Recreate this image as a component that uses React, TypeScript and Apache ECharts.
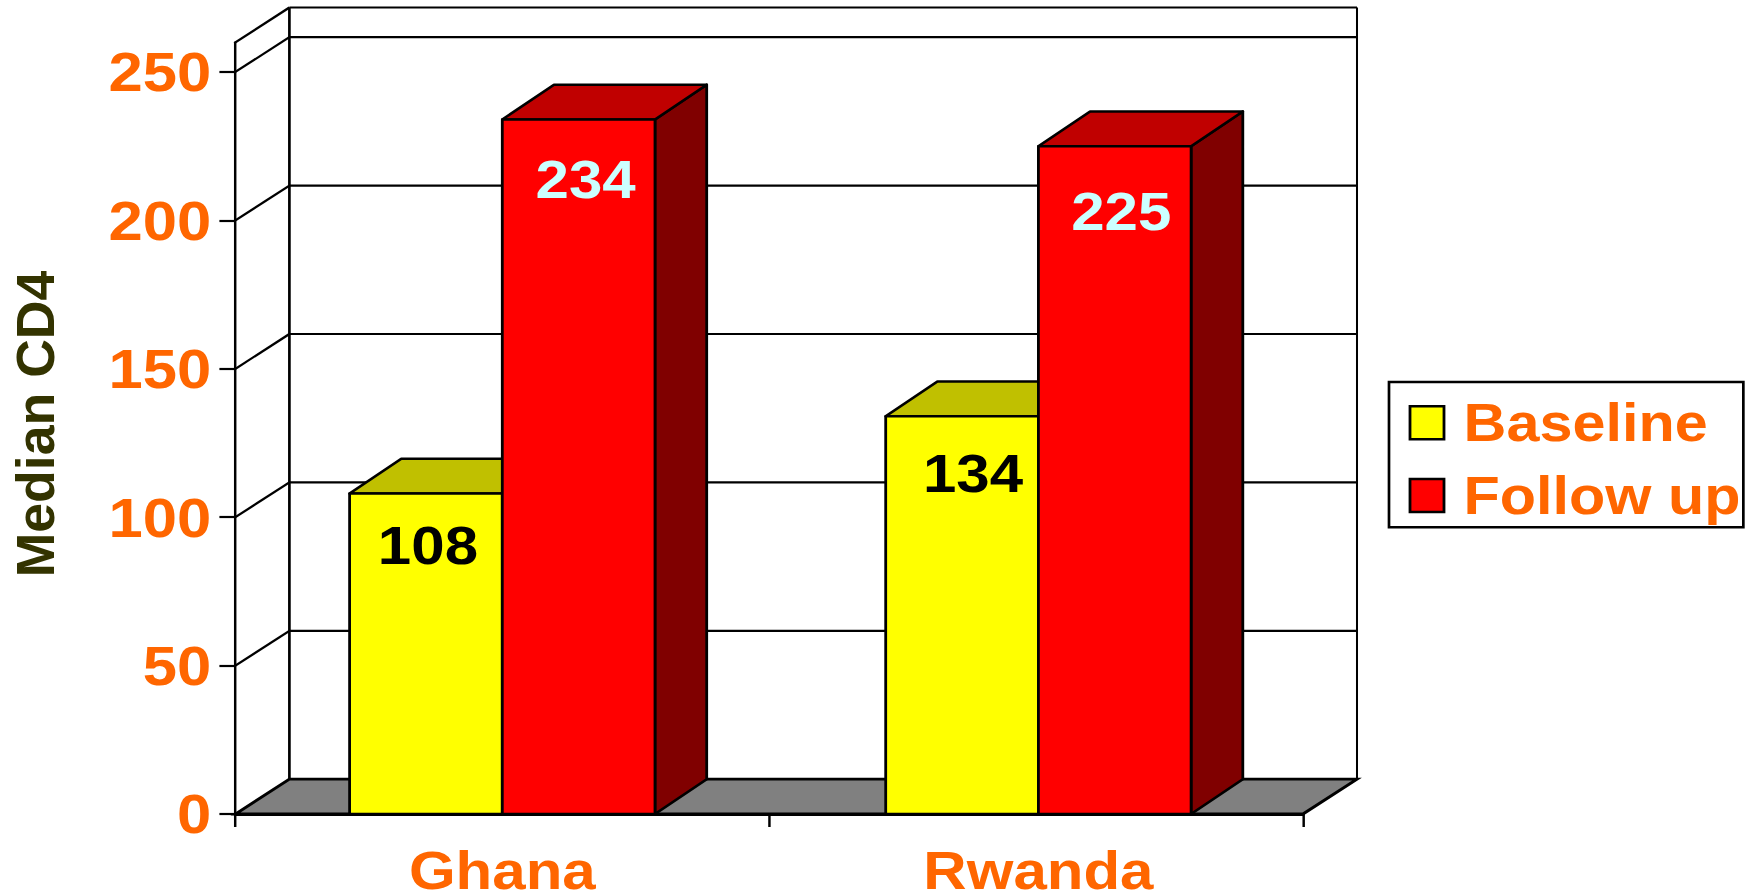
import React, { useEffect, useRef } from "react";
import * as echarts from "echarts";

const categories = ["Ghana", "Rwanda"];
const baseline = [108, 134];
const followUp = [234, 225];
const yTicks = [0, 50, 100, 150, 200, 250];
const yMax = 260;
const wallLevels = [0, 50, 100, 150, 200, 250, 260];
const baselineLabelDrop = [52, 57];
const followUpLabelDrop = [60, 65];
const baselineLabelShift = [2, 11];
const followUpLabelShift = [7, 6.5];
const categoryShift = [0, 2.3];

const SX = 1.12;
const FONT = '"Liberation Sans", Arial, sans-serif';
const ORANGE = "#FF6600";
const DEPTH_X = 54 / SX;
const DEPTH_Y = 34.8;
const BAR_DEPTH_X = 51.7 / SX;
const BAR_FRACTION = 152.7 / 533.8;
const FONT_SIZE = 53.6;

function barRenderer(
  side: number,
  front: string,
  top: string,
  right: string,
  labelColor: string,
  drops: number[],
  shifts: number[],
) {
  return (params: any, api: any) => {
    const idx = api.value(0);
    const v = api.value(1);
    const [cxRaw, yTop] = api.coord([idx, v]);
    const cx = cxRaw + categoryShift[idx] / SX;
    const y0 = api.coord([idx, 0])[1];
    const w = api.size([1, 0])[0] * BAR_FRACTION;
    const xL = side < 0 ? cx - w : cx;
    const xR = xL + w;
    const stroke = { stroke: "#000", lineWidth: 2.5, lineJoin: "round" };
    return {
      type: "group",
      children: [
        {
          type: "polygon",
          shape: { points: [[xR, yTop], [xR + BAR_DEPTH_X, yTop - DEPTH_Y], [xR + BAR_DEPTH_X, y0 - DEPTH_Y], [xR, y0]] },
          style: { fill: right, ...stroke },
        },
        {
          type: "polygon",
          shape: { points: [[xL, yTop], [xL + BAR_DEPTH_X, yTop - DEPTH_Y], [xR + BAR_DEPTH_X, yTop - DEPTH_Y], [xR, yTop]] },
          style: { fill: top, ...stroke },
        },
        {
          type: "rect",
          shape: { x: xL, y: yTop, width: w, height: y0 - yTop },
          style: { fill: front, ...stroke },
        },
        {
          type: "text",
          style: {
            x: (xL + xR) / 2 + shifts[idx] / SX,
            y: yTop + drops[idx],
            text: String(v),
            fill: labelColor,
            fontSize: FONT_SIZE,
            fontWeight: "bold",
            fontFamily: FONT,
            align: "center",
            verticalAlign: "middle",
          },
        },
      ],
    };
  };
}

function wallRenderer(params: any, api: any) {
  const v = api.value(1);
  const y = api.coord([0, v])[1];
  const xA = params.coordSys.x;
  const xB = xA + params.coordSys.width;
  const yBase = params.coordSys.y + params.coordSys.height;
  const children: any[] = [];
  if (v === 0) {
    children.push({
      type: "polygon",
      shape: { points: [[xA, yBase], [xB, yBase], [xB + DEPTH_X, yBase - DEPTH_Y], [xA + DEPTH_X, yBase - DEPTH_Y]] },
      style: { fill: "#808080", stroke: "#000", lineWidth: 2.8 },
    });
  } else {
    const lineStyle = { stroke: "#000", lineWidth: 2.2 };
    children.push({
      type: "line",
      shape: { x1: xA, y1: y, x2: xA + DEPTH_X, y2: y - DEPTH_Y },
      style: lineStyle,
    });
    children.push({
      type: "line",
      shape: { x1: xA + DEPTH_X, y1: y - DEPTH_Y, x2: xB + DEPTH_X, y2: y - DEPTH_Y },
      style: lineStyle,
    });
  }
  if (v === yMax) {
    children.push({
      type: "line",
      shape: { x1: xA + DEPTH_X, y1: y - DEPTH_Y, x2: xA + DEPTH_X, y2: yBase - DEPTH_Y },
      style: { stroke: "#000", lineWidth: 2.4 },
    });
    children.push({
      type: "line",
      shape: { x1: xB + DEPTH_X, y1: y - DEPTH_Y, x2: xB + DEPTH_X, y2: yBase - DEPTH_Y },
      style: { stroke: "#000", lineWidth: 1.8 },
    });
  }
  return { type: "group", children };
}

export default function App() {
  const ref = useRef<HTMLDivElement>(null);
  useEffect(() => {
    const chart = echarts.init(ref.current!, undefined, { renderer: "svg" });
    const axisText = { color: ORANGE, fontWeight: "bold" as const, fontFamily: FONT };
    chart.setOption({
      animation: false,
      backgroundColor: "#fff",
      grid: {
        left: 235.4 / SX,
        width: (1303 - 235.4) / SX,
        top: 42.3,
        height: 771.7,
        containLabel: false,
        outerBoundsMode: "none",
      },
      legend: {
        show: true,
        left: 1389 / SX,
        top: 382,
        orient: "vertical",
        selectedMode: false,
        data: [
          { name: "Baseline", icon: "rect" },
          { name: "Follow up", icon: "rect" },
        ],
        backgroundColor: "#fff",
        borderColor: "#000",
        borderWidth: 2.4,
        padding: [14.2, 2.5, 5.2, 17.5],
        itemGap: 19.8,
        itemWidth: 34 / SX,
        itemHeight: 33,
        itemStyle: { borderColor: "#000", borderWidth: 2.5 },
        textStyle: { ...axisText, fontSize: 53, padding: [0, 0, 0, 12.5] },
      },
      xAxis: {
        type: "category",
        data: categories,
        axisLine: { lineStyle: { color: "#000", width: 2.8 } },
        axisTick: { show: true, interval: 0, length: 13, lineStyle: { color: "#000", width: 2.2 } },
        axisLabel: {
          ...axisText,
          interval: 0,
          hideOverlap: false,
          fontSize: FONT_SIZE,
          margin: 29,
          formatter: (value: string, index: number) => (categoryShift[index] ? `{shifted|${value}}` : value),
          rich: {
            shifted: {
              ...axisText,
              fontSize: FONT_SIZE,
              padding: [0, 0, 0, (2 * 2.3) / SX],
            },
          },
        },
      },
      yAxis: {
        type: "value",
        min: 0,
        max: yMax,
        interval: 50,
        splitLine: { show: false },
        axisLine: { show: true, lineStyle: { color: "#000", width: 2.2 } },
        axisTick: { show: true, length: 16 / SX, customValues: yTicks, lineStyle: { color: "#000", width: 2.2 } },
        axisLabel: { ...axisText, fontSize: 55, margin: 21.6, customValues: yTicks },
      },
      graphic: [
        {
          type: "text",
          x: 34.5 / SX,
          y: 424,
          rotation: Math.PI / 2,
          scaleY: 1 / SX,
          style: {
            text: "Median CD4",
            fill: "#333300",
            fontSize: FONT_SIZE,
            fontWeight: "bold",
            fontFamily: FONT,
            align: "center",
            verticalAlign: "middle",
          },
        },
      ],
      series: [
        {
          type: "custom",
          name: "walls",
          z: 1,
          silent: true,
          renderItem: wallRenderer,
          encode: { x: 0, y: 1 },
          data: wallLevels.map((v) => [0, v]),
        },
        {
          type: "custom",
          name: "Baseline",
          z: 2,
          itemStyle: { color: "#FFFF00" },
          renderItem: barRenderer(-1, "#FFFF00", "#C0C000", "#808000", "#000000", baselineLabelDrop, baselineLabelShift),
          encode: { x: 0, y: 1 },
          data: baseline.map((v, i) => [i, v]),
        },
        {
          type: "custom",
          name: "Follow up",
          z: 3,
          itemStyle: { color: "#FF0000" },
          renderItem: barRenderer(1, "#FF0000", "#C00000", "#800000", "#CCFFFF", followUpLabelDrop, followUpLabelShift),
          encode: { x: 0, y: 1 },
          data: followUp.map((v, i) => [i, v]),
        },
      ],
    });
    return () => chart.dispose();
  }, []);
  return (
    <div
      ref={ref}
      style={{
        position: "fixed",
        left: 0,
        top: 0,
        width: 1758 / SX,
        height: 894,
        transform: `scaleX(${SX})`,
        transformOrigin: "0 0",
      }}
    />
  );
}
